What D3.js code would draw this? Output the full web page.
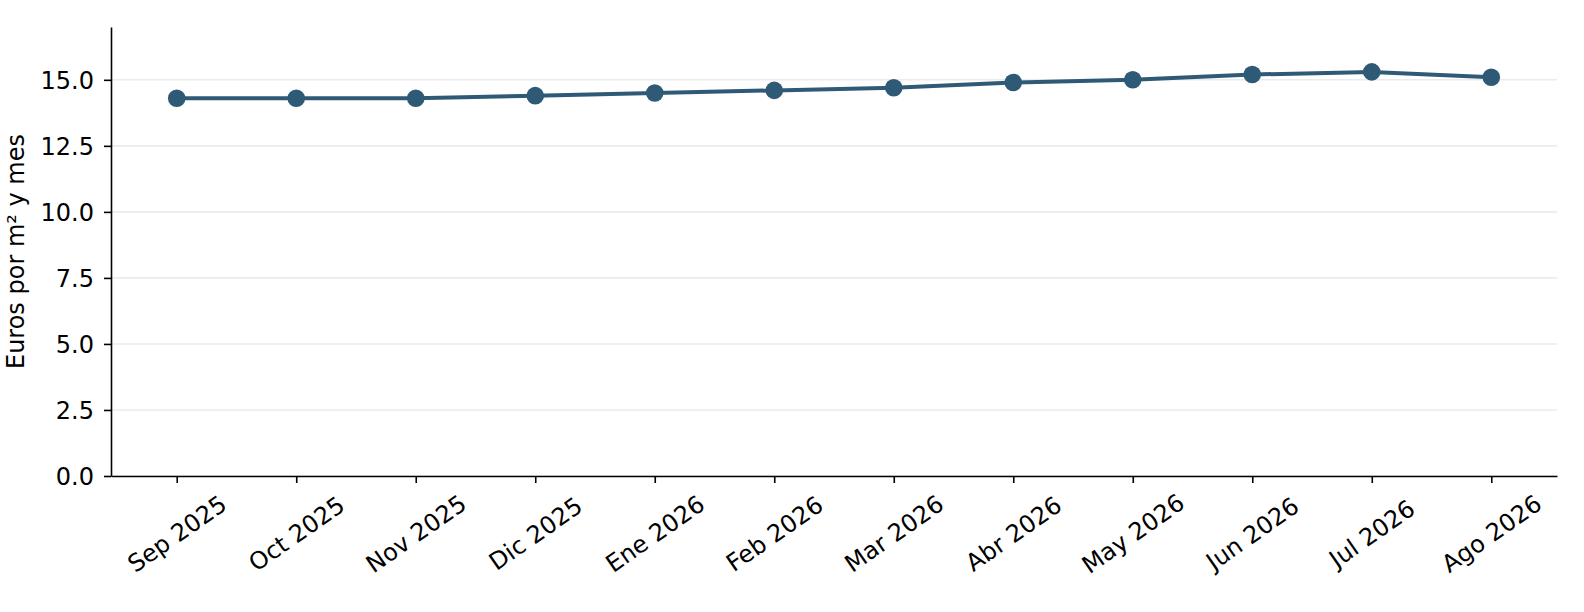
<!DOCTYPE html>
<html>
<head>
<meta charset="utf-8">
<script src="https://cdn.jsdelivr.net/npm/d3@7"></script>
<style>
  html, body { margin: 0; padding: 0; background: #fff; }
  svg { display: block; font-family: "DejaVu Sans", sans-serif; }
</style>
</head>
<body>
<svg width="1584" height="612"></svg>
<script>
const months = ["Sep 2025", "Oct 2025", "Nov 2025", "Dic 2025", "Ene 2026", "Feb 2026",
                "Mar 2026", "Abr 2026", "May 2026", "Jun 2026", "Jul 2026", "Ago 2026"];
const prices = [14.3, 14.3, 14.3, 14.4, 14.5, 14.6, 14.7, 14.9, 15.0, 15.2, 15.3, 15.1];
const yTicks = [0, 2.5, 5, 7.5, 10, 12.5, 15];
const yLabel = "Euros por m² y mes";

const svg = d3.select("svg");
const color = "#2e5a75";

const x = d3.scaleLinear()
  .domain([-0.55, months.length - 1 + 0.55])
  .range([111, 1557]);

const y = d3.scaleLinear()
  .domain([0, 17])
  .range([476, 27]);

// grid
svg.append("g")
  .selectAll("line")
  .data(yTicks)
  .enter()
  .append("line")
  .attr("x1", x.range()[0])
  .attr("x2", x.range()[1])
  .attr("y1", d => y(d))
  .attr("y2", d => y(d))
  .attr("stroke", "#ebebeb")
  .attr("stroke-width", 1.6);

// y axis
const yAxis = d3.axisLeft(y)
  .tickValues(yTicks)
  .tickFormat(d3.format(".1f"))
  .tickSize(7)
  .tickPadding(10)
  .tickSizeOuter(0);

const gy = svg.append("g")
  .attr("transform", `translate(${x.range()[0]},0)`)
  .call(yAxis);
gy.select(".domain").attr("stroke", "#000").attr("stroke-width", 1.6);
gy.selectAll(".tick line").attr("stroke", "#000").attr("stroke-width", 1.6);
gy.selectAll(".tick text")
  .attr("font-size", 24)
  .attr("font-family", "DejaVu Sans")
  .attr("fill", "#000")
  .attr("dy", "0.36em");

// x axis
const xAxis = d3.axisBottom(x)
  .tickValues(d3.range(months.length))
  .tickFormat(i => months[i])
  .tickSize(7)
  .tickSizeOuter(0);

const gx = svg.append("g")
  .attr("transform", `translate(0,${y(0)})`)
  .call(xAxis);
gx.select(".domain").attr("stroke", "#000").attr("stroke-width", 1.6);
gx.selectAll(".tick line").attr("stroke", "#000").attr("stroke-width", 1.6);
gx.selectAll(".tick text")
  .attr("font-size", 24)
  .attr("font-family", "DejaVu Sans")
  .attr("fill", "#000")
  .attr("text-anchor", "middle")
  .attr("dominant-baseline", "central")
  .attr("y", 58)
  .attr("dy", null)
  .attr("transform", "rotate(-35,0,58)");

// y label
svg.append("text")
  .attr("transform", `translate(24,${(y(0) + y(17)) / 2}) rotate(-90)`)
  .attr("text-anchor", "middle")
  .attr("font-size", 24)
  .attr("fill", "#000")
  .text(yLabel);

// line and points
const line = d3.line()
  .x((d, i) => x(i))
  .y(d => y(d));

svg.append("path")
  .datum(prices)
  .attr("fill", "none")
  .attr("stroke", color)
  .attr("stroke-width", 4)
  .attr("stroke-linejoin", "round")
  .attr("d", line);

svg.append("g")
  .selectAll("circle")
  .data(prices)
  .enter()
  .append("circle")
  .attr("cx", (d, i) => x(i))
  .attr("cy", d => y(d))
  .attr("r", 8.8)
  .attr("fill", color);
</script>
</body>
</html>
